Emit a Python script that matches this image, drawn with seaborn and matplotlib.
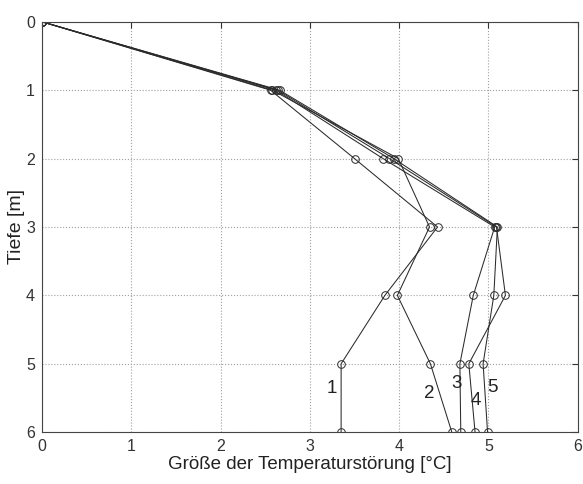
import matplotlib
matplotlib.use("Agg")
import matplotlib.pyplot as plt
import seaborn as sns
import pandas as pd

# ---- data ----
depth = [0, 1, 2, 3, 4, 5, 6]
curve_1 = [0, 2.56, 3.50, 4.43, 3.84, 3.35, 3.35]
curve_2 = [0, 2.58, 3.99, 4.34, 3.98, 4.35, 4.59]
curve_3 = [0, 2.62, 3.82, 5.07, 4.83, 4.68, 4.69]
curve_4 = [0, 2.64, 3.89, 5.09, 5.19, 4.78, 4.85]
curve_5 = [0, 2.66, 3.94, 5.10, 5.06, 4.94, 4.99]
curve_names = ["1", "2", "3", "4", "5"]
x_ticks = [0, 1, 2, 3, 4, 5, 6]
y_ticks = [0, 1, 2, 3, 4, 5, 6]
x_label = "Größe der Temperaturstörung [°C]"
y_label = "Tiefe [m]"

curves = [curve_1, curve_2, curve_3, curve_4, curve_5]
rows = []
for name, vals in zip(curve_names, curves):
    for d, v in zip(depth, vals):
        rows.append({"curve": name, "depth": d, "value": v})
df = pd.DataFrame(rows)

sns.set_style("white")
plt.rcParams["font.family"] = ["Liberation Sans", "DejaVu Sans"]

fig = plt.figure(figsize=(5.83, 4.84), dpi=100)
ax = fig.add_axes([0.072, 0.107, 0.919, 0.848])

for name in curve_names:
    sub = df[df["curve"] == name]
    sns.lineplot(data=sub, x="value", y="depth", sort=False, estimator=None,
                 ax=ax, color="#2b2b2b", linewidth=0.75, marker="o",
                 markersize=5.5, markerfacecolor="none",
                 markeredgecolor="#2b2b2b", markeredgewidth=0.7)

# curve number labels (text positions in data coords)
label_pos = [(3.25, 5.36), (4.34, 5.44), (4.64, 5.29), (4.86, 5.54), (5.05, 5.35)]
for name, (lx, ly) in zip(curve_names, label_pos):
    ax.text(lx, ly, name, fontsize=13.5, ha="center", va="center", color="#222222")

ax.set_xlim(0, 6)
ax.set_ylim(6, 0)
ax.set_xticks(x_ticks)
ax.set_yticks(y_ticks)
ax.set_xticklabels([str(t) for t in x_ticks])
ax.set_yticklabels([str(t) for t in y_ticks])
ax.grid(True, linestyle=":", color="#a0a0a0", linewidth=0.8)
ax.tick_params(direction="in", top=True, right=True, length=4, width=0.8,
               labelsize=11.5, colors="#333333", pad=5)
for s in ax.spines.values():
    s.set_color("#444444")
    s.set_linewidth(0.8)
ax.set_xlabel(x_label, fontsize=13.5, color="#222222", labelpad=1)
ax.set_ylabel(y_label, fontsize=14, color="#222222", labelpad=1)

fig.savefig("out.png", dpi=100)
